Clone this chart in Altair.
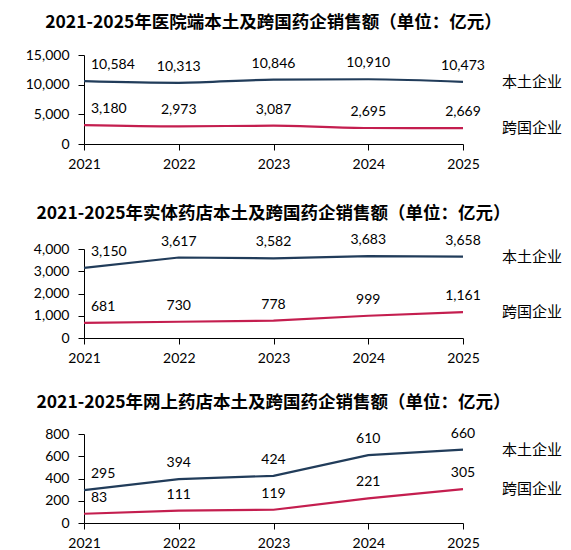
import altair as alt
import pandas as pd

years = ["2021", "2022", "2023", "2024", "2025"]
series_names = ["本土企业", "跨国企业"]
titles = [
    "2021-2025年医院端本土及跨国药企销售额（单位：亿元）",
    "2021-2025年实体药店本土及跨国药企销售额（单位：亿元）",
    "2021-2025年网上药店本土及跨国药企销售额（单位：亿元）",
]
hosp_local = [10584, 10313, 10846, 10910, 10473]
hosp_mnc = [3180, 2973, 3087, 2695, 2669]
store_local = [3150, 3617, 3582, 3683, 3658]
store_mnc = [681, 730, 778, 999, 1161]
online_local = [295, 394, 424, 610, 660]
online_mnc = [83, 111, 119, 221, 305]
y_max = [15000, 4000, 800]
y_step = [5000, 1000, 200]

colors = ["#213c5a", "#c41e4f"]
LAT = "Lato"
CJK = "Noto Sans CJK SC"


def panel(title, local, mnc, ymax, step, interp, title_offset):
    df = pd.DataFrame({
        "year": years * 2,
        "value": local + mnc,
        "series": [series_names[0]] * len(years) + [series_names[1]] * len(years),
    })
    base = alt.Chart(df).encode(
        x=alt.X("year:O", scale=alt.Scale(type="point", padding=0),
                axis=alt.Axis(title=None, labelAngle=0, tickSize=6, labelPadding=7)),
        y=alt.Y("value:Q", scale=alt.Scale(domain=[0, ymax], nice=False),
                axis=alt.Axis(title=None, values=list(range(0, ymax + 1, step)),
                              format=",d", tickSize=6, labelPadding=9, minExtent=58)),
        color=alt.Color("series:N", scale=alt.Scale(domain=series_names, range=colors), legend=None),
    )
    line = base.mark_line(strokeWidth=2.2, interpolate=interp)
    lab_first = base.transform_filter(alt.datum.year == years[0]).mark_text(
        align="left", baseline="middle", dx=7, dy=-16, font=LAT, fontSize=14
    ).encode(text=alt.Text("value:Q", format=",d"), color=alt.value("#000000"))
    lab_rest = base.transform_filter(alt.datum.year != years[0]).mark_text(
        align="center", baseline="middle", dy=-16, font=LAT, fontSize=14
    ).encode(text=alt.Text("value:Q", format=",d"), color=alt.value("#000000"))
    names = base.transform_filter(alt.datum.year == years[-1]).mark_text(
        align="left", baseline="middle", dx=39, font=CJK, fontSize=15
    ).encode(text="series:N", color=alt.value("#000000"))
    return alt.layer(line, lab_first, lab_rest, names).properties(
        width=379, height=89,
        title=alt.TitleParams(title, offset=title_offset),
    )


p1 = panel(titles[0], hosp_local, hosp_mnc, y_max[0], y_step[0], "monotone", 17)
p2 = panel(titles[1], store_local, store_mnc, y_max[1], y_step[1], "linear", 11)
p3 = panel(titles[2], online_local, online_mnc, y_max[2], y_step[2], "linear", 15)

top_pair = alt.vconcat(p1, p2, spacing=33)
chart = alt.vconcat(top_pair, p3, spacing=29).properties(
    padding={"left": 25, "top": 13, "right": 5, "bottom": 0},
    background="white",
).configure_view(strokeWidth=0).configure_axis(
    grid=False, domainColor="#000000", tickColor="#000000", labelColor="#000000",
    labelFont=LAT, labelFontSize=14, domainWidth=1, tickWidth=1,
).configure_title(
    font=CJK, fontSize=17.5, fontWeight="bold", color="#000000",
    anchor="middle", frame="group", dx=0,
)

chart.save("out.html", embed_options={"renderer": "svg", "actions": False})
